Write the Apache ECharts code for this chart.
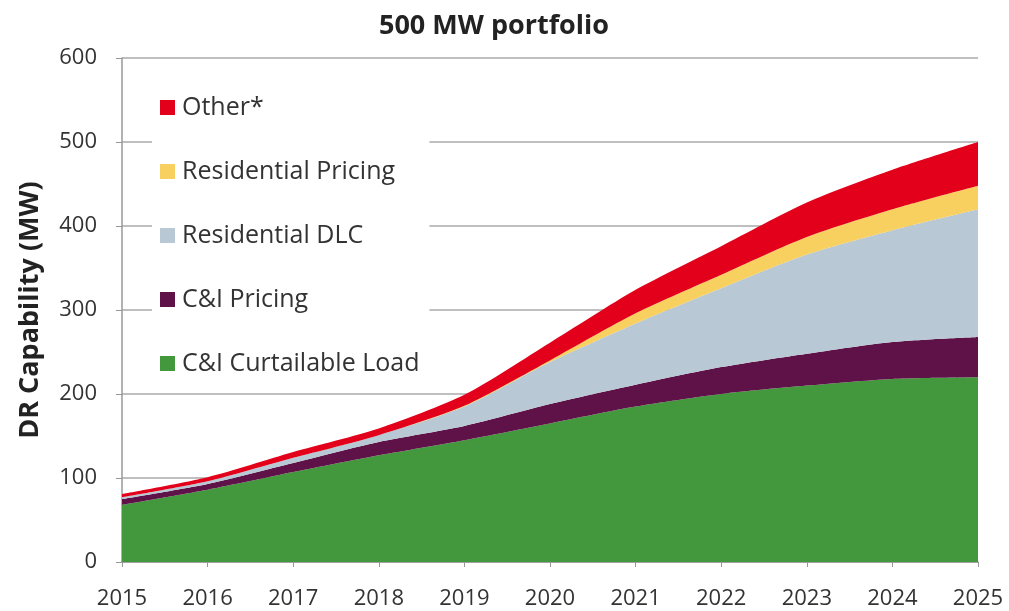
<!DOCTYPE html>
<html>
<head>
<meta charset="utf-8">
<title>500 MW portfolio</title>
<script src="https://cdn.jsdelivr.net/npm/echarts@6/dist/echarts.min.js"></script>
<style>
  html, body { margin: 0; padding: 0; background: #fff; }
  #chart { width: 1009px; height: 611px; }
</style>
</head>
<body>
<div id="chart"></div>
<script>
// Years on the x axis
const years = ["2015", "2016", "2017", "2018", "2019", "2020", "2021", "2022", "2023", "2024", "2025"];

// DR capability by segment (MW)
const ciCurtailable = [68, 86, 107, 127, 145, 165, 185, 200, 210, 218, 220];
const ciPricing = [7, 7, 11, 16, 17, 23, 26, 32, 38, 44, 48];
const resDLC = [2, 3, 6, 8, 23, 50, 73, 94, 118, 133, 152];
const resPricing = [0, 0, 0, 0, 1, 2, 12, 16, 21, 25, 28];
const other = [4, 5, 7, 8, 13, 21, 28, 34, 41, 47, 52];

const yTicks = [0, 100, 200, 300, 400, 500, 600];

const FONT = "'Open Sans', 'Noto Sans', sans-serif";

const chart = echarts.init(document.getElementById("chart"));

function areaSeries(name, data, color) {
  return {
    name: name,
    type: "line",
    stack: "total",
    data: data,
    smooth: 0.25,
    symbol: "none",
    lineStyle: { width: 0 },
    areaStyle: { color: color, opacity: 1 },
    itemStyle: { color: color },
    emphasis: { disabled: true }
  };
}

chart.setOption({
  animation: false,
  backgroundColor: "#fff",
  title: {
    text: "500 MW portfolio",
    left: 489,
    textAlign: "center",
    top: 8,
    textStyle: { fontFamily: FONT, fontSize: 27, fontWeight: "bold", color: "#222" }
  },
  legend: {
    orient: "vertical",
    left: 152,
    top: 89,
    itemWidth: 15,
    itemHeight: 15,
    itemGap: 39,
    padding: [6, 10, 6, 8],
    backgroundColor: "#fff",
    icon: "rect",
    data: ["Other*", "Residential Pricing", "Residential DLC", "C&I Pricing", "C&I Curtailable Load"],
    textStyle: { fontFamily: FONT, fontSize: 25, color: "#333", padding: [0, 0, 0, 2] }
  },
  grid: { left: 122, right: 31, top: 58, bottom: 49 },
  xAxis: {
    type: "category",
    data: years,
    boundaryGap: false,
    axisLine: { lineStyle: { color: "#999", width: 1.5 } },
    axisTick: { show: true, length: 5, lineStyle: { color: "#999" } },
    axisLabel: { fontFamily: FONT, fontSize: 22, color: "#333", margin: 26 },
    splitLine: { show: false }
  },
  yAxis: {
    type: "value",
    min: yTicks[0],
    max: yTicks[yTicks.length - 1],
    interval: 100,
    name: "DR Capability (MW)",
    nameLocation: "middle",
    nameGap: 78,
    nameTextStyle: { fontFamily: FONT, fontSize: 27, fontWeight: "bold", color: "#222" },
    axisLine: { show: true, lineStyle: { color: "#999", width: 1.5 } },
    axisTick: { show: true, length: 6, lineStyle: { color: "#999" } },
    axisLabel: { fontFamily: FONT, fontSize: 22, color: "#333", margin: 25 },
    splitLine: { show: true, lineStyle: { color: "#aaa", width: 1.5 } }
  },
  series: [
    areaSeries("C&I Curtailable Load", ciCurtailable, "#43983d"),
    areaSeries("C&I Pricing", ciPricing, "#5e1248"),
    areaSeries("Residential DLC", resDLC, "#b8c8d4"),
    areaSeries("Residential Pricing", resPricing, "#f7d060"),
    areaSeries("Other*", other, "#e2001a")
  ]
});
</script>
</body>
</html>
